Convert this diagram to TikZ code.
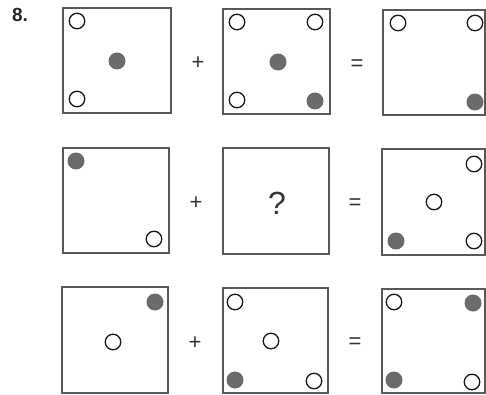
\documentclass[tikz,border=0pt]{standalone}
\usepackage{fontspec}
\setmainfont{Liberation Sans}
\begin{document}
\begin{tikzpicture}[x=1pt,y=-1pt,
  box/.style={draw=black!65,line width=1.1pt},
  oc/.style={circle,draw=black!90,line width=1.3pt,fill=white,minimum size=15.5pt,inner sep=0pt},
  fc/.style={circle,fill=black!58,minimum size=17pt,inner sep=0pt},
  op/.style={inner sep=0pt,text=black!80,font=\fontsize{22}{22}\selectfont},
  qm/.style={inner sep=0pt,text=black!80,font=\fontsize{32}{32}\selectfont}]
\useasboundingbox (0,0) rectangle (486,395);
\fill[white] (0,0) rectangle (486,395);
\node[inner sep=0pt,text=black!85,font=\bfseries\fontsize{19}{19}\selectfont] (num) at (20,15) {8.};
% row 1
\draw[box] (63,8) rectangle (171,113);
\draw[box] (223,9) rectangle (330,114);
\draw[box] (383,10) rectangle (485,115);
\node[oc] (a1) at (77,21) {};
\node[oc] (a2) at (77,99) {};
\node[fc] (a3) at (117,61) {};
\node[op] (p1) at (198,63) {+};
\node[oc] (b1) at (237,22) {};
\node[oc] (b2) at (315,22) {};
\node[oc] (b3) at (237,100) {};
\node[fc] (b4) at (278,62) {};
\node[fc] (b5) at (315,101) {};
\node[op] (e1) at (357,65) {=};
\node[oc] (c1) at (398,23) {};
\node[oc] (c2) at (475,23) {};
\node[fc] (c3) at (475,102) {};
% row 2
\draw[box] (63,148) rectangle (169,253);
\draw[box] (223,148) rectangle (329,254);
\draw[box] (382,149) rectangle (485,255);
\node[fc] (d1) at (76,161) {};
\node[oc] (d2) at (154,239) {};
\node[op] (p2) at (196,203) {+};
\node[qm] (q) at (277,203) {?};
\node[op] (e2) at (355,204) {=};
\node[oc] (f1) at (474,164) {};
\node[oc] (f2) at (434,202) {};
\node[fc] (f3) at (396,241) {};
\node[oc] (f4) at (474,241) {};
% row 3
\draw[box] (62,287) rectangle (168,393);
\draw[box] (223,288) rectangle (328,393);
\draw[box] (382,289) rectangle (485,393);
\node[fc] (g1) at (155,302) {};
\node[oc] (g2) at (113,342) {};
\node[op] (p3) at (195,343) {+};
\node[oc] (h1) at (235,302) {};
\node[oc] (h2) at (271,341) {};
\node[fc] (h3) at (235,380) {};
\node[oc] (h4) at (314,381) {};
\node[op] (e3) at (355,343) {=};
\node[oc] (k1) at (394,302) {};
\node[fc] (k2) at (473,303) {};
\node[fc] (k3) at (394,380) {};
\node[oc] (k4) at (472,382) {};
\end{tikzpicture}
\end{document}
